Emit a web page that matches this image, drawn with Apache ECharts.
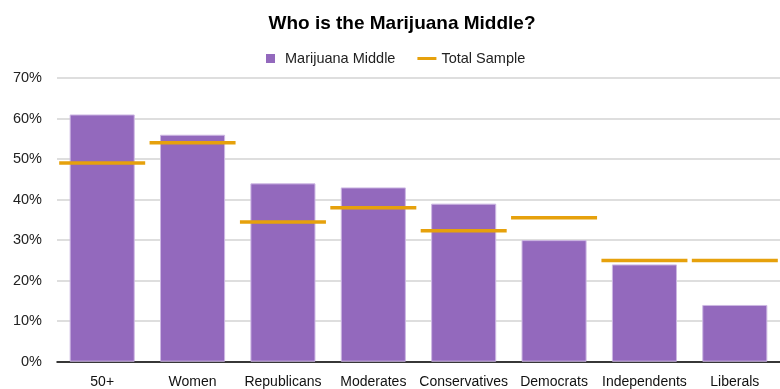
<!DOCTYPE html>
<html>
<head>
<meta charset="utf-8">
<script src="https://cdn.jsdelivr.net/npm/echarts@6/dist/echarts.min.js"></script>
<style>html,body{margin:0;padding:0;background:#fff;}#c{width:780px;height:389px;}</style>
</head>
<body>
<div id="c"></div>
<script>
const categories = ['50+', 'Women', 'Republicans', 'Moderates', 'Conservatives', 'Democrats', 'Independents', 'Liberals'];
const marijuanaMiddle = [61, 56, 44, 43, 39, 30, 24, 14];
const totalSample = [49, 54, 34.5, 38, 32.3, 35.5, 25, 25];
const yTicks = [0, 10, 20, 30, 40, 50, 60, 70];

const FONT = '"Liberation Sans", Arial, Helvetica, sans-serif';
const chart = echarts.init(document.getElementById('c'), null, {renderer: 'canvas'});
chart.setOption({
  animation: false,
  textStyle: {fontFamily: FONT},
  title: {
    text: 'Who is the Marijuana Middle?',
    left: 397, top: 9, textAlign: 'center',
    textStyle: {fontFamily: FONT, fontSize: 19, fontWeight: 'bold', color: '#000'}
  },
  legend: {
    top: 46, left: 261,
    itemWidth: 19, itemHeight: 9, itemGap: 22,
    textStyle: {fontFamily: FONT, fontSize: 14.5, color: '#222'},
    itemStyle: {borderWidth: 0},
    data: [
      {name: 'Marijuana Middle', icon: 'path://M0,0h9v9h-9z'},
      {name: 'Total Sample', icon: 'path://M0,0h19v3h-19z'}
    ]
  },
  grid: {left: 57, right: 0, top: 78, bottom: 27.3, containLabel: false},
  xAxis: {
    type: 'category', data: categories,
    axisLine: {lineStyle: {color: '#000', width: 1.5}},
    axisTick: {show: false},
    axisLabel: {interval: 0, fontFamily: FONT, fontSize: 14, color: '#111', margin: 13}
  },
  yAxis: {
    type: 'value', min: yTicks[0], max: yTicks[yTicks.length - 1], interval: 10,
    axisLine: {show: false}, axisTick: {show: false},
    axisLabel: {formatter: '{value}%', fontFamily: FONT, fontSize: 14.5, color: '#222', margin: 15},
    splitLine: {lineStyle: {color: '#d3d3d3', width: 1.5}}
  },
  series: [
    {
      name: 'Marijuana Middle', type: 'bar', data: marijuanaMiddle,
      barCategoryGap: '28%',
      itemStyle: {color: '#9369bd', borderColor: '#cdb8e3', borderWidth: 1}
    },
    {
      name: 'Total Sample', type: 'scatter', data: totalSample,
      symbol: 'rect', symbolSize: [86, 3.5], z: 5,
      itemStyle: {color: '#e6a10c', opacity: 1}
    }
  ]
});
</script>
</body>
</html>
